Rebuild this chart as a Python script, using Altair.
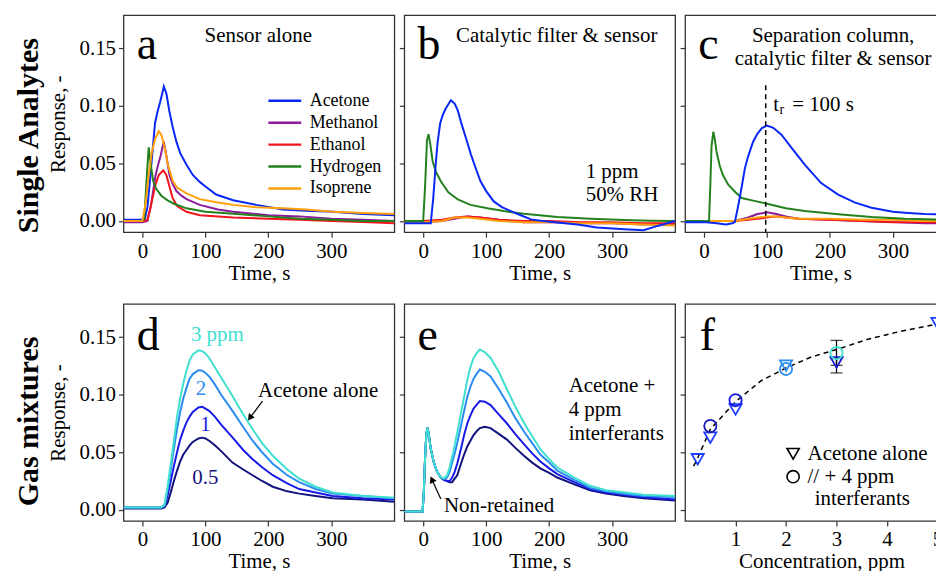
import altair as alt
import pandas as pd

FONT = "Liberation Serif"
T_DOMAIN = [-30, 400]
V_DOMAIN = [-0.0098, 0.179]
C_DOMAIN = [0, 5.05]
PW, PH = 272, 218
FW = 256

# ---------------- panel a : sensor alone ----------------
a_names = ["Acetone", "Methanol", "Ethanol", "Hydrogen", "Isoprene"]
a_colors = ["#0a28f5", "#8e1b9c", "#f0141e", "#23821e", "#ffa00a"]
a_ace_t = [-30, -10, 0, 4, 8, 12, 16, 20, 24, 28, 32, 34, 38, 43, 48, 54, 60, 70, 80, 91, 100, 117, 144, 181, 223, 260, 303, 350, 400]
a_ace_v = [0.001, 0.001, 0.001, 0.002, 0.012, 0.035, 0.060, 0.085, 0.095, 0.103, 0.112, 0.117, 0.111, 0.095, 0.082, 0.069, 0.059, 0.049, 0.040, 0.034, 0.030, 0.023, 0.018, 0.014, 0.010, 0.009, 0.008, 0.006, 0.005]
a_met_t = [-30, 0, 8, 13, 17, 21, 25, 29, 34, 38, 43, 48, 54, 62, 70, 91, 120, 144, 200, 250, 300, 350, 400]
a_met_v = [-0.001, -0.001, 0.000, 0.012, 0.026, 0.040, 0.049, 0.057, 0.069, 0.057, 0.040, 0.032, 0.026, 0.022, 0.019, 0.014, 0.010, 0.008, 0.005, 0.004, 0.002, 0.001, 0.000]
a_eth_t = [-30, 0, 8, 13, 20, 26, 33, 38, 43, 48, 55, 70, 91, 144, 200, 250, 300, 350, 400]
a_eth_v = [0.000, 0.000, 0.001, 0.012, 0.030, 0.040, 0.044, 0.040, 0.030, 0.020, 0.013, 0.008, 0.005, 0.003, 0.002, 0.001, 0.000, -0.001, -0.002]
a_hyd_t = [-30, 0, 3, 6, 10, 13, 17, 22, 30, 40, 50, 70, 100, 150, 200, 250, 300, 350, 400]
a_hyd_v = [0.000, 0.000, 0.002, 0.030, 0.064, 0.050, 0.035, 0.028, 0.022, 0.018, 0.015, 0.011, 0.008, 0.006, 0.004, 0.002, 0.001, 0.000, 0.000]
a_iso_t = [-30, 0, 5, 10, 15, 20, 26, 30, 35, 40, 48, 55, 70, 91, 120, 144, 180, 223, 260, 303, 350, 400]
a_iso_v = [0.000, 0.000, 0.015, 0.040, 0.060, 0.071, 0.078, 0.075, 0.065, 0.050, 0.035, 0.029, 0.024, 0.019, 0.016, 0.014, 0.012, 0.011, 0.010, 0.008, 0.007, 0.006]

# ---------------- panel b : catalytic filter & sensor ----------------
b_ace_t = [-30, 0, 12, 16, 20, 23, 27, 31, 36, 44, 50, 55, 60, 68, 76, 84, 91, 100, 112, 125, 139, 155, 171, 190, 213, 245, 276, 319, 350, 372, 400]
b_ace_v = [-0.002, -0.002, -0.002, 0.020, 0.050, 0.069, 0.085, 0.092, 0.098, 0.105, 0.102, 0.096, 0.086, 0.072, 0.0575, 0.045, 0.0345, 0.026, 0.017, 0.012, 0.0086, 0.005, 0.0014, 0.000, -0.0014, -0.003, -0.0057, -0.0072, -0.008, -0.0043, 0.000]
b_hyd_t = [-30, 0, 3, 6, 8.5, 11, 15, 20, 28, 40, 55, 75, 102, 128, 160, 213, 266, 319, 360, 400]
b_hyd_v = [0.000, 0.000, 0.030, 0.070, 0.0755, 0.068, 0.052, 0.043, 0.0345, 0.025, 0.0187, 0.014, 0.011, 0.0086, 0.0063, 0.0034, 0.002, 0.0009, 0.0003, 0.000]
b_small_t = [-30, 0, 30, 50, 70, 90, 120, 160, 200, 250, 300, 350, 400]
b_met_v = [-0.001, -0.001, 0.000, 0.002, 0.004, 0.003, 0.001, -0.001, -0.001, -0.002, -0.002, -0.003, -0.003]
b_eth_v = [0.000, 0.000, 0.001, 0.003, 0.004, 0.003, 0.001, 0.000, 0.000, -0.001, -0.001, -0.002, -0.002]
b_iso_v = [-0.001, -0.001, 0.000, 0.003, 0.003, 0.002, 0.000, -0.001, -0.001, -0.002, -0.002, -0.003, -0.004]

# ---------------- panel c : separation column, filter & sensor ----------------
c_ace_t = [-30, 0, 20, 35, 45, 49, 55, 60, 65, 70, 78, 85, 92, 100, 110, 123, 140, 160, 186, 213, 240, 266, 300, 319, 350, 372, 383, 400]
c_ace_v = [-0.001, -0.001, -0.002, -0.003, -0.002, -0.001, 0.015, 0.030, 0.046, 0.056, 0.069, 0.076, 0.0808, 0.083, 0.081, 0.075, 0.063, 0.049, 0.033, 0.023, 0.016, 0.0115, 0.008, 0.0072, 0.006, 0.0058, 0.007, 0.005]
c_hyd_t = [-30, 8, 10, 12, 14.8, 17, 20, 25, 30, 38.6, 50, 60, 80, 100, 130, 160, 213, 266, 319, 383, 400]
c_hyd_v = [0.000, 0.000, 0.030, 0.065, 0.0776, 0.072, 0.060, 0.048, 0.040, 0.0316, 0.025, 0.020, 0.0175, 0.015, 0.011, 0.0086, 0.0058, 0.0035, 0.002, 0.0012, 0.001]
c_small_t = [-30, 0, 50, 70, 85, 100, 115, 130, 150, 200, 250, 300, 350, 400]
c_met_v = [0.000, 0.000, 0.000, 0.003, 0.006, 0.0075, 0.006, 0.004, 0.002, 0.001, 0.000, -0.001, -0.002, -0.002]
c_eth_v = [0.000, 0.000, 0.000, 0.001, 0.002, 0.003, 0.004, 0.003, 0.002, 0.001, 0.000, -0.001, -0.001, -0.002]
c_iso_v = [0.000, 0.000, 0.000, 0.002, 0.003, 0.004, 0.004, 0.003, 0.002, 0.002, 0.001, 0.001, 0.000, 0.000]
t_r = 98

# ---------------- panel d : acetone alone, 0.5 - 3 ppm ----------------
conc_names = ["0.5", "1", "2", "3"]
conc_colors = ["#12127e", "#1a1ae6", "#2a8cf0", "#40e0d0"]
d_t = [-30, 0, 30, 35, 40, 45, 50, 55, 60, 65, 70, 75, 80, 89, 95, 100, 106, 115, 125, 143, 160, 175, 190, 207, 230, 249, 275, 302, 350, 400]
d_05 = [0.001, 0.001, 0.001, 0.002, 0.006, 0.015, 0.025, 0.034, 0.042, 0.048, 0.052, 0.056, 0.059, 0.062, 0.0627, 0.062, 0.060, 0.056, 0.051, 0.041, 0.035, 0.030, 0.025, 0.020, 0.016, 0.014, 0.012, 0.010, 0.009, 0.007]
d_1 = [0.002, 0.002, 0.002, 0.003, 0.012, 0.025, 0.038, 0.050, 0.061, 0.069, 0.076, 0.081, 0.085, 0.089, 0.0895, 0.088, 0.086, 0.081, 0.074, 0.063, 0.052, 0.044, 0.037, 0.030, 0.023, 0.018, 0.015, 0.012, 0.010, 0.009]
d_2 = [0.002, 0.002, 0.002, 0.004, 0.017, 0.035, 0.053, 0.070, 0.085, 0.097, 0.106, 0.114, 0.118, 0.1213, 0.121, 0.119, 0.116, 0.109, 0.100, 0.086, 0.072, 0.060, 0.050, 0.040, 0.030, 0.024, 0.018, 0.014, 0.012, 0.010]
d_3 = [0.002, 0.002, 0.002, 0.004, 0.020, 0.040, 0.060, 0.081, 0.097, 0.110, 0.121, 0.130, 0.135, 0.1386, 0.138, 0.136, 0.132, 0.124, 0.115, 0.099, 0.083, 0.070, 0.058, 0.047, 0.035, 0.027, 0.020, 0.015, 0.012, 0.0105]

# ---------------- panel e : acetone + 4 ppm interferants ----------------
e_t = [-30, -1, 1, 3, 5, 7, 9, 12, 17, 22, 28, 33, 38, 42, 46, 50, 54, 60, 65, 70, 75, 80, 86, 90, 98, 107, 120, 133, 146, 160, 173, 186, 200, 213, 240, 265, 290, 318, 350, 400]
e_nonret = [-0.0015, -0.0015, 0.015, 0.045, 0.066, 0.0713, 0.065, 0.053, 0.041, 0.033, 0.028]
e_05_tail = [0.026, 0.025, 0.024, 0.024, 0.027, 0.030, 0.040, 0.048, 0.055, 0.060, 0.065, 0.069, 0.071, 0.0722, 0.071, 0.066, 0.061, 0.054, 0.047, 0.041, 0.036, 0.032, 0.028, 0.022, 0.017, 0.014, 0.012, 0.010, 0.008]
e_1_tail = [0.026, 0.025, 0.025, 0.028, 0.033, 0.040, 0.053, 0.065, 0.075, 0.082, 0.088, 0.092, 0.0945, 0.094, 0.091, 0.083, 0.075, 0.066, 0.057, 0.049, 0.042, 0.036, 0.031, 0.024, 0.018, 0.015, 0.013, 0.011, 0.009]
e_2_tail = [0.027, 0.028, 0.033, 0.041, 0.049, 0.058, 0.073, 0.086, 0.098, 0.107, 0.114, 0.119, 0.122, 0.120, 0.116, 0.105, 0.093, 0.080, 0.068, 0.058, 0.048, 0.041, 0.034, 0.026, 0.019, 0.016, 0.014, 0.012, 0.011]
e_3_tail = [0.027, 0.030, 0.037, 0.046, 0.056, 0.067, 0.084, 0.098, 0.113, 0.124, 0.132, 0.137, 0.1393, 0.137, 0.132, 0.120, 0.1046, 0.090, 0.0757, 0.064, 0.0526, 0.044, 0.0367, 0.028, 0.0208, 0.017, 0.0153, 0.013, 0.012]

# ---------------- panel f : calibration ----------------
f_kinds = ["Acetone alone", "// + 4 ppm"]
tri_conc = [0.25, 0.5, 1, 2, 3, 5]
tri_resp = [0.0439, 0.0627, 0.0873, 0.1254, 0.1282, 0.1623]
tri_cols = ["#1f3fff", "#1f3fff", "#1f3fff", "#2a8cf0", "#1a1ad0", "#1f3fff"]
circ_conc = [0.5, 1, 2, 3]
circ_resp = [0.0728, 0.0953, 0.1225, 0.1363]
circ_cols = ["#1a1ab4", "#1a1ae6", "#2a8cf0", "#40e0d0"]
err_conc = [3, 3]
err_lo = [0.1256, 0.119]
err_hi = [0.1473, 0.132]
fit_conc = [0.17, 0.25, 0.5, 1, 1.5, 2, 2.5, 3, 3.6, 4.25, 5, 5.24]
fit_resp = [0.038, 0.045, 0.070, 0.094, 0.112, 0.1233, 0.1329, 0.1393, 0.148, 0.155, 0.1615, 0.163]


# ---------------- helpers ----------------
def x_time():
    return alt.X("x:Q", scale=alt.Scale(domain=T_DOMAIN, nice=False, zero=False),
                 axis=alt.Axis(values=[0, 100, 200, 300], title="Time, s"))


def x_conc():
    return alt.X("x:Q", scale=alt.Scale(domain=C_DOMAIN, nice=False, zero=False),
                 axis=alt.Axis(values=[1, 2, 3, 4, 5], title="Concentration, ppm", titleX=137))


def y_resp(labels):
    if labels:
        ax = alt.Axis(values=[0, 0.05, 0.1, 0.15], format=".2f", title="Response, -", titlePadding=11)
    else:
        ax = alt.Axis(values=[0, 0.05, 0.1, 0.15], labels=False, title=None)
    return alt.Y("y:Q", scale=alt.Scale(domain=V_DOMAIN, nice=False, zero=False), axis=ax)


def line(xs, ys, color, xf, yf, width=2.0):
    df = pd.DataFrame({"x": xs, "y": ys})
    return alt.Chart(df).mark_line(strokeWidth=width, clip=True, color=color).encode(x=xf(), y=yf())


def texts(rows, xf, yf, size=21, color="black", align="left", baseline="middle"):
    df = pd.DataFrame(rows, columns=["x", "y", "label"])
    return alt.Chart(df).mark_text(font=FONT, fontSize=size, color=color, align=align,
                                   baseline=baseline).encode(x=xf(), y=yf(), text="label:N")


def letter(ch, x, y, xf, yf):
    return texts([(x, y, ch)], xf, yf, size=46, baseline="alphabetic")


def row_label(text, dy):
    return alt.Chart(pd.DataFrame({"label": [text]})).mark_text(
        angle=270, font=FONT, fontSize=30, fontWeight="bold", color="black",
        align="center", baseline="middle").encode(x=alt.value(-95), y=alt.value(PH / 2 + dy), text="label:N")


def arrow(x1, y1, x2, y2, ang, xf, yf):
    r = alt.Chart(pd.DataFrame({"x": [x1], "y": [y1], "x2": [x2], "y2": [y2]})).mark_rule(
        color="black", strokeWidth=1.2).encode(x=xf(), y=yf(), x2="x2:Q", y2="y2:Q")
    h = alt.Chart(pd.DataFrame({"x": [x2], "y": [y2]})).mark_point(
        shape="triangle-up", filled=True, size=55, angle=ang, color="black", opacity=1).encode(x=xf(), y=yf())
    return [r, h]


# ---------------- panel a ----------------
leg_a = alt.Legend(orient="none", legendX=144, legendY=75, title=None, symbolType="stroke",
                   symbolSize=1089, symbolStrokeWidth=2.5, labelFont=FONT, labelFontSize=18,
                   labelColor="black", labelOffset=7, rowPadding=0, padding=0, clipHeight=22,
                   labelLimit=300)
a_series = [(a_ace_t, a_ace_v), (a_met_t, a_met_v), (a_eth_t, a_eth_v), (a_hyd_t, a_hyd_v), (a_iso_t, a_iso_v)]
a_layers = []
for name, (ts, vs) in zip(a_names, a_series):
    df = pd.DataFrame({"x": ts, "y": vs, "s": name})
    a_layers.append(alt.Chart(df).mark_line(strokeWidth=2, clip=True).encode(
        x=x_time(), y=y_resp(True),
        color=alt.Color("s:N", scale=alt.Scale(domain=a_names, range=a_colors), legend=leg_a)))
ya = lambda: y_resp(True)
panel_a = alt.layer(
    *a_layers,
    texts([(184, 0.161, "Sensor alone")], x_time, ya, align="center"),
    letter("a", -9, 0.1405, x_time, ya),
    row_label("Single Analytes", 12),
).properties(width=PW, height=PH)

# ---------------- panel b ----------------
yb = lambda: y_resp(False)
panel_b = alt.layer(
    line(b_small_t, b_met_v, a_colors[1], x_time, yb),
    line(b_small_t, b_eth_v, a_colors[2], x_time, yb),
    line(b_small_t, b_iso_v, a_colors[4], x_time, yb),
    line(b_hyd_t, b_hyd_v, a_colors[3], x_time, yb),
    line(b_ace_t, b_ace_v, a_colors[0], x_time, yb),
    texts([(212, 0.161, "Catalytic filter & sensor")], x_time, yb, align="center"),
    texts([(258, 0.043, "1 ppm"), (258, 0.023, "50% RH")], x_time, yb),
    letter("b", -9, 0.1405, x_time, yb),
).properties(width=PW, height=PH)

# ---------------- panel c ----------------
tr_rule = alt.Chart(pd.DataFrame({"x": [t_r], "y": [0.118], "y2": [V_DOMAIN[0]]})).mark_rule(
    color="black", strokeWidth=1.5, strokeDash=[5, 4]).encode(x=x_time(), y=yb(), y2="y2:Q")
panel_c = alt.layer(
    line(c_small_t, c_met_v, a_colors[1], x_time, yb),
    line(c_small_t, c_eth_v, a_colors[2], x_time, yb),
    line(c_small_t, c_iso_v, a_colors[4], x_time, yb),
    line(c_hyd_t, c_hyd_v, a_colors[3], x_time, yb),
    line(c_ace_t, c_ace_v, a_colors[0], x_time, yb),
    tr_rule,
    texts([(205, 0.161, "Separation column,"), (205, 0.1408, "catalytic filter & sensor")], x_time, yb, align="center"),
    texts([(110, 0.1009, "t"), (140, 0.1009, "= 100 s")], x_time, yb),
    texts([(120, 0.0966, "r")], x_time, yb, size=14),
    letter("c", -9, 0.1405, x_time, yb),
).properties(width=PW, height=PH)

# ---------------- panel d ----------------
yd = lambda: y_resp(True)
panel_d = alt.layer(
    line(d_t, d_05, conc_colors[0], x_time, yd),
    line(d_t, d_1, conc_colors[1], x_time, yd),
    line(d_t, d_2, conc_colors[2], x_time, yd),
    line(d_t, d_3, conc_colors[3], x_time, yd),
    texts([(77, 0.152, "3 ppm")], x_time, yd, color=conc_colors[3]),
    texts([(93, 0.1046, "2")], x_time, yd, color=conc_colors[2], align="center"),
    texts([(100, 0.074, "1")], x_time, yd, color=conc_colors[1], align="center"),
    texts([(100, 0.028, "0.5")], x_time, yd, color=conc_colors[0], align="center"),
    texts([(279, 0.103, "Acetone alone")], x_time, yd, align="center"),
    *arrow(190.6, 0.0945, 170.7, 0.0799, 217, x_time, yd),
    letter("d", -9, 0.139, x_time, yd),
    row_label("Gas mixtures", 9),
).properties(width=PW, height=PH)

# ---------------- panel e ----------------
ye = lambda: y_resp(False)
panel_e = alt.layer(
    line(e_t, e_nonret + e_05_tail, conc_colors[0], x_time, ye),
    line(e_t, e_nonret + e_1_tail, conc_colors[1], x_time, ye),
    line(e_t, e_nonret + e_2_tail, conc_colors[2], x_time, ye),
    line(e_t, e_nonret + e_3_tail, conc_colors[3], x_time, ye),
    texts([(231, 0.1075, "Acetone +"), (231, 0.0866, "4 ppm"), (231, 0.0656, "interferants")], x_time, ye),
    texts([(33, 0.0035, "Non-retained")], x_time, ye),
    *arrow(28, 0.0093, 13.8, 0.0263, 335, x_time, ye),
    letter("e", -9, 0.139, x_time, ye),
).properties(width=PW, height=PH)

# ---------------- panel f ----------------
yf = lambda: y_resp(False)
pts = pd.DataFrame({
    "x": tri_conc + circ_conc,
    "y": tri_resp + circ_resp,
    "kind": [f_kinds[0]] * len(tri_conc) + [f_kinds[1]] * len(circ_conc),
    "col": tri_cols + circ_cols,
})
leg_f = alt.Legend(orient="none", legendX=98, legendY=139, title=None, symbolStrokeColor="black",
                   symbolFillColor="white", symbolStrokeWidth=1.6, symbolSize=150, labelFont=FONT,
                   labelFontSize=21, labelColor="black", labelOffset=4, rowPadding=0, padding=0,
                   clipHeight=23, labelLimit=300)
err_df = pd.DataFrame({"x": err_conc, "y": err_lo, "y2": err_hi})
cap_df = pd.DataFrame({"x": err_conc + err_conc, "y": err_lo + err_hi})
panel_f = alt.layer(
    alt.Chart(pd.DataFrame({"x": fit_conc, "y": fit_resp})).mark_line(
        color="black", strokeWidth=1.5, strokeDash=[5, 4], clip=True).encode(x=x_conc(), y=yf()),
    alt.Chart(err_df).mark_rule(color="black", strokeWidth=1.3).encode(x=x_conc(), y=yf(), y2="y2:Q"),
    alt.Chart(cap_df).mark_tick(color="black", orient="horizontal", size=12, thickness=1.3).encode(x=x_conc(), y=yf()),
    alt.Chart(pts).mark_point(filled=False, size=150, strokeWidth=1.8, opacity=1).encode(
        x=x_conc(), y=yf(),
        color=alt.Color("col:N", scale=None),
        shape=alt.Shape("kind:N", scale=alt.Scale(domain=f_kinds, range=["triangle-down", "circle"]), legend=leg_f)),
    texts([(2.57, 0.0093, "interferants")], x_conc, yf),
    letter("f", 0.29, 0.139, x_conc, yf),
).properties(width=FW, height=PH)

chart = alt.concat(
    panel_a, panel_b, panel_c, panel_d, panel_e, panel_f,
    columns=3, spacing={"row": 19, "column": 2},
).resolve_scale(
    x="independent", y="independent", color="independent", shape="independent"
).properties(
    padding={"left": 5, "top": 5, "right": -21, "bottom": -3},
    background="white",
).configure_view(
    stroke="#333", strokeWidth=1.3
).configure_axis(
    labelFont=FONT, titleFont=FONT, labelFontSize=21, titleFontSize=21, titleFontWeight="normal",
    labelColor="black", titleColor="black", tickColor="#333", tickWidth=1.2, tickSize=5,
    grid=False, domain=False, labelPadding=3, titlePadding=1,
)

chart.save("out.html", embed_options={"renderer": "svg", "actions": False})
